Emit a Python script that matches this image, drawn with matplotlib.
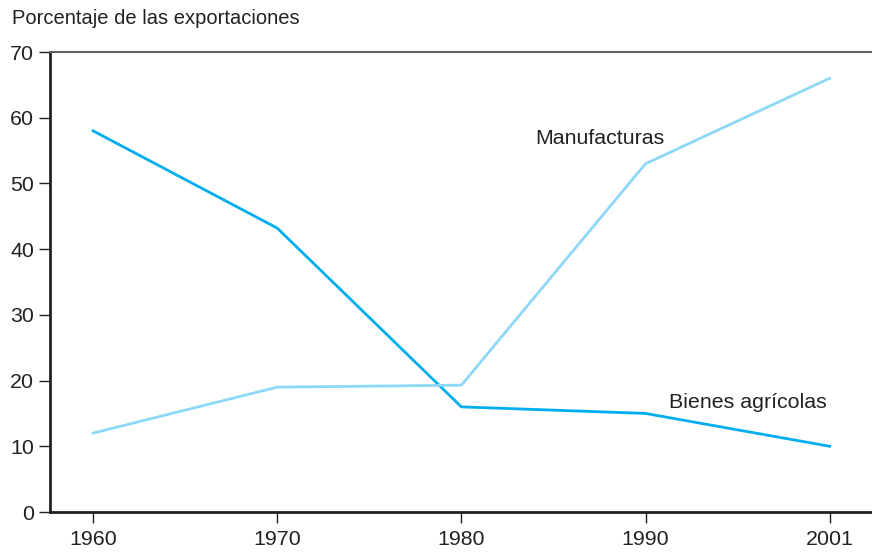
import matplotlib
matplotlib.use("Agg")
import matplotlib.pyplot as plt

plt.rcParams['font.family'] = ['Liberation Sans', 'DejaVu Sans']

years = ["1960", "1970", "1980", "1990", "2001"]
agricolas = [58, 43.2, 16, 15, 10]
manufacturas = [12, 19, 19.3, 53, 66]

fig = plt.figure(figsize=(8.72, 5.52), dpi=100)
ax = fig.add_axes([50 / 872, 1 - 512 / 552, 822 / 872, 460 / 552])

pos = list(range(len(years)))
ax.plot(pos, agricolas, color='#00aeef', lw=2)
ax.plot(pos, manufacturas, color='#8dd8f8', lw=2)

ax.set_xlim(-0.234, 4.23)
ax.set_ylim(0, 70)
ax.set_xticks(pos)
ax.set_xticklabels(years)
ax.set_yticks(range(0, 71, 10))

ax.spines['right'].set_visible(False)
ax.spines['top'].set_color('#606060')
ax.spines['top'].set_linewidth(1.5)
for s in ['left', 'bottom']:
    ax.spines[s].set_color('#222222')
    ax.spines[s].set_linewidth(2)
ax.tick_params(axis='both', length=8, width=1, color='#222222',
               labelsize=15.4, labelcolor='#222222')
ax.tick_params(axis='x', pad=5)

ax.text(2.40, 56.9, "Manufacturas", fontsize=15.4, color='#222222', va='center')
ax.text(3.125, 16.7, "Bienes agrícolas", fontsize=15.4, color='#222222', va='center')
fig.text(12 / 872, 1 - 18 / 552, "Porcentaje de las exportaciones",
         fontsize=14.5, color='#222222', va='center')

fig.savefig("out.png", dpi=100)
